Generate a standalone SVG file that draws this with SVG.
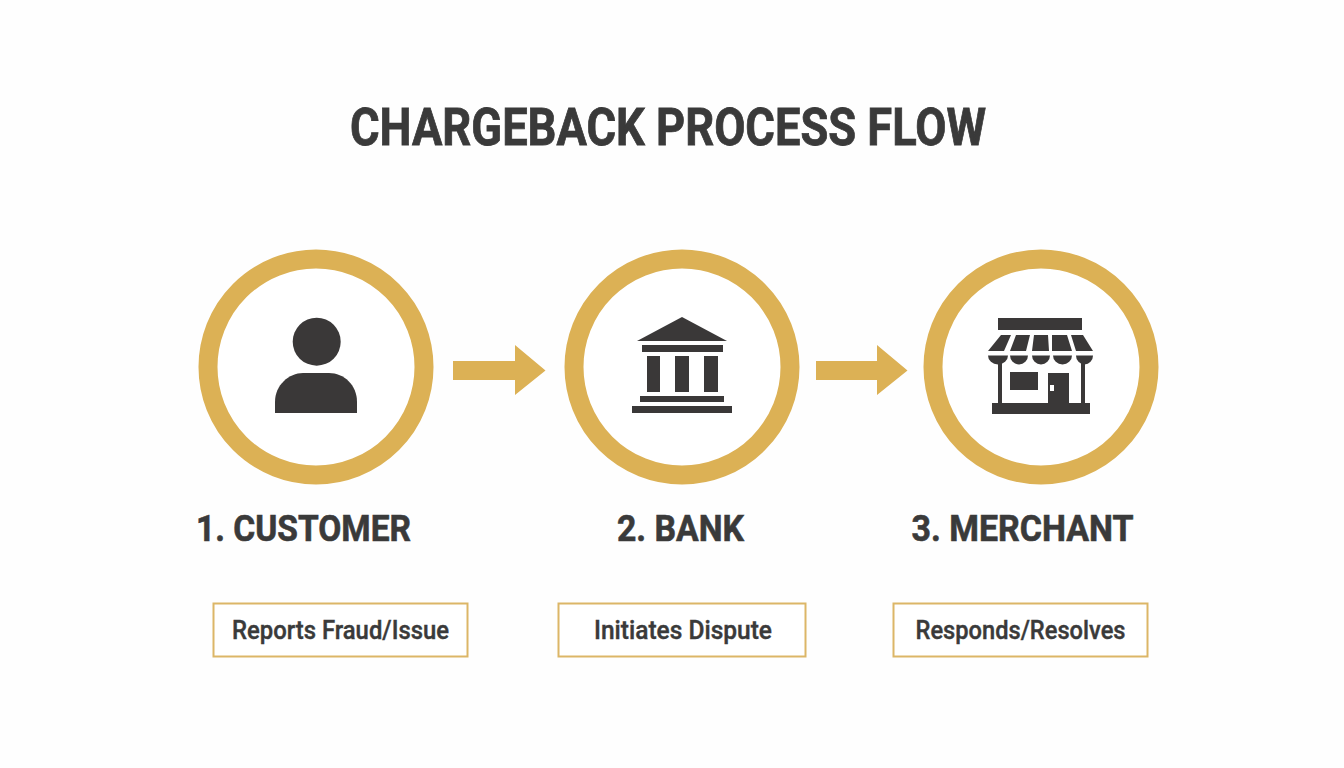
<svg xmlns="http://www.w3.org/2000/svg" width="1344" height="768" viewBox="0 0 1344 768">
<style>
text{font-family:Roboto,"Liberation Sans",sans-serif;fill:#3a3a3a;stroke:#3a3a3a;text-anchor:middle}
.t{font-size:52px;font-weight:700;stroke-width:.8}
.h{font-size:36px;font-weight:700;stroke-width:.6}
.s{font-size:25px;font-weight:500;stroke-width:.4}
.ring{fill:#fff;stroke:#dcb155;stroke-width:19}
.box{fill:#fff;stroke:#dcb667;stroke-width:2}
.i{fill:#3a3838}
.a{fill:#dcb155}
</style>
<rect width="1344" height="768" fill="#fefefe"/>
<text class="t" x="668" y="145" textLength="636" lengthAdjust="spacingAndGlyphs">CHARGEBACK PROCESS FLOW</text>
<g id="connectors">
<path class="a" d="M453 361H515V345L545.500 370.500L515 395V380H453Z"/>
<path class="a" d="M816 361H877V345L907.500 370.500L877 395V380H816Z"/>
</g>
<g id="customer">
<circle class="ring" cx="316" cy="367" r="108"/>
<circle class="i" cx="316.700" cy="341.700" r="24"/>
<path class="i" d="M275 413V402C275 385 289 373 303 373H329C344 373 357 385 357 402V413Z"/>
<text class="h" x="303.500" y="541" textLength="215" lengthAdjust="spacingAndGlyphs">1. CUSTOMER</text>
<rect class="box" x="213.500" y="603.500" width="254" height="53"/>
<text class="s" x="340.500" y="639" textLength="217" lengthAdjust="spacingAndGlyphs">Reports Fraud/Issue</text>
</g>
<g id="bank">
<circle class="ring" cx="682" cy="367" r="108"/>
<path class="i" d="M637 341L682 317L727 341Z"/>
<rect class="i" x="642" y="345" width="81" height="7"/>
<rect class="i" x="647" y="356" width="13" height="36"/>
<rect class="i" x="675" y="356" width="14" height="36"/>
<rect class="i" x="704" y="356" width="14" height="36"/>
<rect class="i" x="640" y="396" width="84" height="6"/>
<rect class="i" x="632" y="406" width="100" height="7"/>
<text class="h" x="680.500" y="541" textLength="127" lengthAdjust="spacingAndGlyphs">2. BANK</text>
<rect class="box" x="558.500" y="603.500" width="247" height="53"/>
<text class="s" x="683" y="639" textLength="178" lengthAdjust="spacingAndGlyphs">Initiates Dispute</text>
</g>
<g id="merchant">
<circle class="ring" cx="1041" cy="367" r="108"/>
<rect class="i" x="998" y="318" width="84" height="12"/>
<path class="i" d="M988 351L1001 335H1011L1004 351Z"/>
<path class="i" d="M1010 351L1016 335H1030L1026 351Z"/>
<path class="i" d="M1032 351L1034 335H1048L1049 351Z"/>
<path class="i" d="M1052 351L1052 335H1067L1072 351Z"/>
<path class="i" d="M1076 351L1071 335H1083L1093 351Z"/>
<path class="i" d="M988 355.500H1008A10 9 0 0 1 988 355.500Z"/>
<path class="i" d="M1010 355.500H1028A9 9 0 0 1 1010 355.500Z"/>
<path class="i" d="M1032 355.500H1050A9 9 0 0 1 1032 355.500Z"/>
<path class="i" d="M1053 355.500H1072A9.500 9 0 0 1 1053 355.500Z"/>
<path class="i" d="M1076 355.500H1093A8.500 9 0 0 1 1076 355.500Z"/>
<rect class="i" x="998" y="362" width="4" height="45"/>
<rect class="i" x="1081" y="362" width="4" height="45"/>
<rect class="i" x="1010" y="372" width="28" height="18"/>
<path class="i" fill-rule="evenodd" d="M1048 373H1069V404H1048ZM1050 385V391H1054V385Z"/>
<rect class="i" x="992" y="403" width="98" height="11"/>
<text class="h" x="1022.500" y="541" textLength="222" lengthAdjust="spacingAndGlyphs">3. MERCHANT</text>
<rect class="box" x="893.500" y="603.500" width="254" height="53"/>
<text class="s" x="1020.500" y="639" textLength="210" lengthAdjust="spacingAndGlyphs">Responds/Resolves</text>
</g>
</svg>
